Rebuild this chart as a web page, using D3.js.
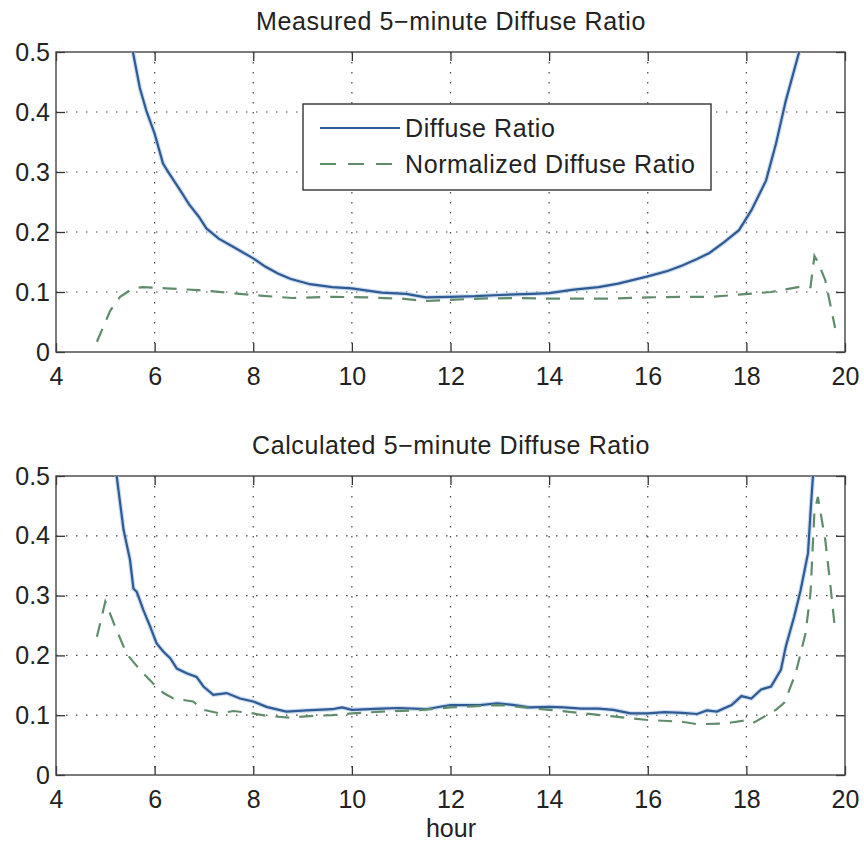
<!DOCTYPE html>
<html>
<head>
<meta charset="utf-8">
<script src="https://cdn.jsdelivr.net/npm/d3@7"></script>
<style>
  body { margin: 0; background: #fff; }
  text { font-family: "Liberation Sans", Arial, Helvetica, sans-serif; fill: #222; }
</style>
</head>
<body>
<div id="chart"></div>
<script>
// top panel: measured
const measHours = [5.56, 5.7, 5.84, 6.0, 6.17, 6.3, 6.5, 6.7, 6.9, 7.05, 7.3, 7.6, 8.0, 8.25, 8.5, 8.75, 9.15, 9.6, 10.0, 10.6, 11.1, 11.5, 12.0, 12.5, 13.0, 13.65, 14.0, 14.5, 15.0, 15.4, 16.0, 16.4, 16.7, 17.0, 17.25, 17.55, 17.85, 18.1, 18.4, 18.6, 18.8, 19.07];
const measDiffuse = [0.5, 0.44, 0.40, 0.364, 0.314, 0.297, 0.272, 0.246, 0.225, 0.206, 0.189, 0.175, 0.156, 0.142, 0.131, 0.122, 0.113, 0.108, 0.106, 0.099, 0.097, 0.091, 0.092, 0.093, 0.095, 0.097, 0.098, 0.104, 0.108, 0.114, 0.126, 0.135, 0.144, 0.155, 0.165, 0.183, 0.203, 0.236, 0.286, 0.347, 0.419, 0.5];

const measNormHours = [4.83, 5.1, 5.3, 5.56, 5.76, 6.24, 6.9, 7.6, 8.14, 8.8, 9.6, 10.3, 11.0, 11.5, 12.0, 12.6, 13.3, 14.0, 14.6, 15.3, 16.0, 16.7, 17.3, 17.9, 18.5, 19.1, 19.3, 19.38, 19.45, 19.6, 19.7, 19.8];
const measNorm = [0.017, 0.069, 0.092, 0.106, 0.108, 0.106, 0.103, 0.098, 0.094, 0.09, 0.092, 0.091, 0.089, 0.085, 0.087, 0.089, 0.09, 0.089, 0.089, 0.089, 0.091, 0.092, 0.092, 0.096, 0.1, 0.109, 0.108, 0.16, 0.15, 0.12, 0.08, 0.04];

// bottom panel: calculated
const calcHours = [5.23, 5.37, 5.5, 5.57, 5.64, 5.77, 5.91, 6.04, 6.18, 6.32, 6.45, 6.65, 6.85, 6.99, 7.19, 7.46, 7.73, 8.0, 8.27, 8.67, 9.08, 9.6, 9.8, 10.0, 10.6, 10.94, 11.5, 12.0, 12.6, 12.95, 13.3, 13.6, 14.0, 14.3, 14.65, 15.0, 15.3, 15.65, 16.0, 16.34, 16.7, 17.0, 17.2, 17.4, 17.7, 17.9, 18.1, 18.3, 18.5, 18.7, 18.8, 18.97, 19.1, 19.25, 19.3, 19.35];
const calcDiffuse = [0.5, 0.41, 0.36, 0.312, 0.306, 0.276, 0.248, 0.22, 0.206, 0.195, 0.178, 0.17, 0.164, 0.148, 0.134, 0.137, 0.128, 0.123, 0.114, 0.106, 0.108, 0.11, 0.113, 0.109, 0.111, 0.112, 0.11, 0.117, 0.117, 0.12, 0.117, 0.113, 0.114, 0.113, 0.111, 0.111, 0.109, 0.103, 0.103, 0.105, 0.104, 0.102, 0.108, 0.106, 0.117, 0.132, 0.128, 0.143, 0.148, 0.176, 0.215, 0.265, 0.309, 0.371, 0.438, 0.5];

const calcNormHours = [4.83, 5.0, 5.2, 5.43, 5.7, 5.97, 6.18, 6.38, 6.78, 6.99, 7.32, 7.6, 8.0, 8.27, 8.74, 9.26, 9.6, 10.0, 10.6, 11.3, 12.0, 13.0, 14.0, 14.6, 15.3, 16.0, 16.7, 17.0, 17.56, 18.03, 18.16, 18.6, 18.77, 19.0, 19.2, 19.3, 19.38, 19.45, 19.6, 19.7, 19.8];
const calcNorm = [0.231, 0.29, 0.248, 0.203, 0.176, 0.153, 0.137, 0.128, 0.123, 0.109, 0.103, 0.107, 0.103, 0.099, 0.096, 0.099, 0.1, 0.103, 0.106, 0.108, 0.113, 0.117, 0.109, 0.104, 0.098, 0.092, 0.089, 0.085, 0.086, 0.092, 0.088, 0.109, 0.121, 0.17, 0.237, 0.304, 0.44, 0.465, 0.393, 0.32, 0.242];

const xTicks = [4, 6, 8, 10, 12, 14, 16, 18, 20];
const yTicks = [0, 0.1, 0.2, 0.3, 0.4, 0.5];
const seriesNames = ["Diffuse Ratio", "Normalized Diffuse Ratio"];
const titles = ["Measured 5\u2212minute Diffuse Ratio", "Calculated 5\u2212minute Diffuse Ratio"];

const blue = "#2f5a94";
const green = "#5f8d6b";
const dash = "14,10";

const W = 864, H = 844;
const left = 56, right = 845;

var svg = d3.select("#chart")
    .append("svg")
    .attr("width", W)
    .attr("height", H);

var xScale = d3.scaleLinear().domain([4, 20]).range([left, right]);

function zip(hs, vs) {
    return hs.map((h, i) => [h, vs[i]]);
}

function drawPanel(id, top, bottom, title, blueData, greenData, withLegend) {
    var yScale = d3.scaleLinear().domain([0, 0.5]).range([bottom, top]);
    var g = svg.append("g");

    g.append("clipPath").attr("id", "clip" + id)
        .append("rect")
        .attr("x", left).attr("y", top)
        .attr("width", right - left).attr("height", bottom - top);

    // dotted grid
    g.selectAll(".vgrid")
        .data(xTicks.slice(1, -1))
        .enter().append("line")
        .attr("x1", d => xScale(d)).attr("x2", d => xScale(d))
        .attr("y1", top).attr("y2", bottom)
        .attr("stroke", "#444").attr("stroke-width", 1.2)
        .attr("stroke-dasharray", "1.5,8.5");

    g.selectAll(".hgrid")
        .data(yTicks.slice(1, -1))
        .enter().append("line")
        .attr("x1", left).attr("x2", right)
        .attr("y1", d => yScale(d)).attr("y2", d => yScale(d))
        .attr("stroke", "#444").attr("stroke-width", 1.2)
        .attr("stroke-dasharray", "1.5,8.5");

    // axes with inward ticks on all four sides
    var tickLen = 9;
    var axB = g.append("g").attr("transform", "translate(0," + bottom + ")")
        .call(d3.axisBottom(xScale).tickValues(xTicks).tickSize(-tickLen).tickPadding(15).tickFormat(d3.format("d")));
    var axT = g.append("g").attr("transform", "translate(0," + top + ")")
        .call(d3.axisTop(xScale).tickValues(xTicks).tickSize(-tickLen).tickFormat(""));
    var axL = g.append("g").attr("transform", "translate(" + left + ",0)")
        .call(d3.axisLeft(yScale).tickValues(yTicks).tickSize(-tickLen).tickPadding(6).tickFormat(d => d === 0 ? "0" : d3.format(".1f")(d)));
    var axR = g.append("g").attr("transform", "translate(" + right + ",0)")
        .call(d3.axisRight(yScale).tickValues(yTicks).tickSize(-tickLen).tickFormat(""));

    [axB, axT, axL, axR].forEach(a => {
        a.select(".domain").remove();
        a.selectAll("line").attr("stroke", "#333").attr("stroke-width", 1.3);
        a.selectAll("text").style("font-size", "25px")
            .style("font-family", "'Liberation Sans', Arial, sans-serif")
            .attr("fill", "#222");
    });
    axB.selectAll("text").attr("dy", "0.71em");

    g.append("rect")
        .attr("x", left).attr("y", top)
        .attr("width", right - left).attr("height", bottom - top)
        .attr("fill", "none").attr("stroke", "#444").attr("stroke-width", 1.4);

    var line = d3.line().x(d => xScale(d[0])).y(d => yScale(d[1]));
    var plot = g.append("g").attr("clip-path", "url(#clip" + id + ")");

    // faint halo under the blue line
    plot.append("path").datum(blueData)
        .attr("d", line).attr("fill", "none")
        .attr("stroke", "#b7cfe8").attr("stroke-width", 4.5).attr("opacity", 0.7);
    plot.append("path").datum(blueData)
        .attr("d", line).attr("fill", "none")
        .attr("stroke", blue).attr("stroke-width", 2.2);
    plot.append("path").datum(greenData)
        .attr("d", line).attr("fill", "none")
        .attr("stroke", green).attr("stroke-width", 2.2)
        .attr("stroke-dasharray", dash);

    g.append("text")
        .attr("x", 451).attr("y", top - 22)
        .attr("text-anchor", "middle")
        .style("font-size", "25px")
        .style("letter-spacing", "0.6px")
        .text(title);

    if (withLegend) {
        var lg = g.append("g");
        lg.append("rect")
            .attr("x", 303).attr("y", 104).attr("width", 408).attr("height", 86)
            .attr("fill", "#fff").attr("stroke", "#333").attr("stroke-width", 1.4);
        var rows = [{ name: seriesNames[0], color: blue, dash: null, y: 128 },
                    { name: seriesNames[1], color: green, dash: "16,12", y: 164 }];
        rows.forEach(r => {
            lg.append("line")
                .attr("x1", 320).attr("x2", 400).attr("y1", r.y).attr("y2", r.y)
                .attr("stroke", r.color).attr("stroke-width", 2.2)
                .attr("stroke-dasharray", r.dash);
            lg.append("text")
                .attr("x", 405).attr("y", r.y + 9)
                .style("font-size", "25px")
                .style("letter-spacing", "0.6px")
                .text(r.name);
        });
    }
}

drawPanel("a", 52, 352, titles[0], zip(measHours, measDiffuse), zip(measNormHours, measNorm), true);
drawPanel("b", 476, 775, titles[1], zip(calcHours, calcDiffuse), zip(calcNormHours, calcNorm), false);

svg.append("text")
    .attr("x", 451).attr("y", 837)
    .attr("text-anchor", "middle")
    .style("font-size", "25px")
    .text("hour");
</script>
</body>
</html>
